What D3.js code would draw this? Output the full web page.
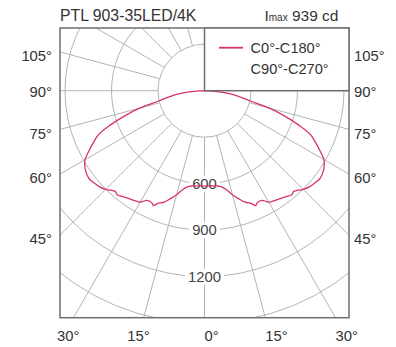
<!DOCTYPE html>
<html><head><meta charset="utf-8">
<script src="https://cdn.jsdelivr.net/npm/d3@7"></script>
<style>html,body{margin:0;padding:0;background:#fff}svg{display:block}</style>
</head><body>
<svg id="c" width="396" height="347"></svg>
<script>
const title = "PTL 903-35LED/4K";
const imaxValue = 939;
const seriesNames = ["C0°-C180°", "C90°-C270°"];
const gammaAngles = [0,2.5,5,7.5,10,12.5,15,17.5,20,22.5,24,25,27.5,30,32.5,35,37.5,40,41.5,42.5,45,47.5,50,52.5,55,57.5,60,62.5,65,67.5,70,72.5,75,77.5,80,82.5,85,87.5,90];
const intensityC0 = [615,615,616,620,630,655,695,730,765,787,812,800,798,830,840,850,862,876,868,875,900,918,928,936,930,915,890,840,790,740,645,540,430,300,235,175,110,55,0];
const ringValues = [300,600,900,1200,1500,1800];
const ringLabels = [600,900,1200];
const radialAngles = d3.range(0,360,15);
const sideLabels = [105,90,75,60,45];
const bottomLabels = [-30,-15,0,15,30];

const FONT = "'Liberation Sans', Arial, sans-serif";
const TXT = "#333";
const svg = d3.select("#c");
const fr = {x0:60, y0:28, x1:349, y1:317.7};
const cx = 204.5, cy = 90.7;
const r = d3.scaleLinear().domain([0,300]).range([0,46.5]);
const rad = d => d*Math.PI/180;

svg.append("defs").append("clipPath").attr("id","fc")
  .append("rect").attr("x",fr.x0).attr("y",fr.y0).attr("width",fr.x1-fr.x0).attr("height",fr.y1-fr.y0);

const grid = svg.append("g").attr("clip-path","url(#fc)");
grid.selectAll("circle").data(ringValues).join("circle")
  .attr("cx",cx).attr("cy",cy).attr("r",d=>r(d))
  .attr("fill","none").attr("stroke","#ababab").attr("stroke-width",0.9);
grid.selectAll("line").data(radialAngles).join("line")
  .attr("x1",d=>cx+r(300)*Math.sin(rad(d))).attr("y1",d=>cy+r(300)*Math.cos(rad(d)))
  .attr("x2",d=>cx+500*Math.sin(rad(d))).attr("y2",d=>cy+500*Math.cos(rad(d)))
  .attr("stroke","#ababab").attr("stroke-width",0.9);

// ring labels
const rl = svg.append("g");
ringLabels.forEach(v=>{
  const g = rl.append("g");
  const t = g.append("text").attr("x",cx).attr("y",cy+r(v)+5).attr("text-anchor","middle")
    .attr("font-family",FONT).attr("font-size",14.8).attr("fill","#444").text(v);
  const b = t.node().getBBox();
  g.insert("rect","text").attr("x",b.x-3).attr("y",b.y).attr("width",b.width+6).attr("height",b.height).attr("fill","#fff");
});

// curve
const pts = [];
for (let i=gammaAngles.length-1;i>0;i--) pts.push([-gammaAngles[i], intensityC0[i]]);
for (let i=0;i<gammaAngles.length;i++) pts.push([gammaAngles[i], intensityC0[i]]);
const line = d3.lineRadial().angle(d=>Math.PI-rad(d[0])).radius(d=>r(d[1])).curve(d3.curveCatmullRom.alpha(0.5));
svg.append("g").attr("clip-path","url(#fc)")
  .append("path").attr("transform",`translate(${cx},${cy})`).attr("d",line(pts))
  .attr("fill","none").attr("stroke","#d6336b").attr("stroke-width",1.3);

// frame
svg.append("rect").attr("x",fr.x0).attr("y",fr.y0).attr("width",fr.x1-fr.x0).attr("height",fr.y1-fr.y0)
  .attr("fill","none").attr("stroke","#6e6e6e").attr("stroke-width",1.5);

// legend
svg.append("rect").attr("x",cx).attr("y",fr.y0).attr("width",fr.x1-cx).attr("height",cy-fr.y0)
  .attr("fill","#fff").attr("stroke","#6e6e6e").attr("stroke-width",1.5);
svg.append("line").attr("x1",219).attr("x2",243).attr("y1",47.7).attr("y2",47.7).attr("stroke","#d6336b").attr("stroke-width",1.8);
seriesNames.forEach((s,i)=>{
  svg.append("text").attr("x",250.5).attr("y",53.3+i*20.7).attr("font-family",FONT).attr("font-size",14.6).attr("fill",TXT).text(s);
});

// title
svg.append("text").attr("x",fr.x0).attr("y",20.7).attr("font-family",FONT).attr("font-size",15.8).attr("fill",TXT).text(title);
const im = svg.append("text").attr("x",338.5).attr("y",20.7).attr("text-anchor","end").attr("font-family",FONT).attr("font-size",15.5).attr("fill",TXT);
im.append("tspan").text("I");
im.append("tspan").attr("font-size",10).text("max");
im.append("tspan").text(" " + imaxValue + " cd");

// side labels
const halfW = fr.x1 - cx;
sideLabels.forEach(a=>{
  const y = cy + halfW*Math.cos(rad(a))/Math.sin(rad(a)) + (a===90?1:4);
  svg.append("text").attr("x",52).attr("y",y).attr("dy","0.35em").attr("text-anchor","end")
    .attr("font-family",FONT).attr("font-size",14.8).attr("fill",TXT).text(a+"°");
  svg.append("text").attr("x",354).attr("y",y).attr("dy","0.35em").attr("text-anchor","start")
    .attr("font-family",FONT).attr("font-size",14.8).attr("fill",TXT).text(a+"°");
});
// bottom labels
const halfH = fr.y1 - cy;
bottomLabels.forEach(a=>{
  const x = cx + halfH*Math.tan(rad(a));
  svg.append("text").attr("x",a<0?x+6:x).attr("y",340.7).attr("text-anchor",a<0?"end":"start")
    .attr("font-family",FONT).attr("font-size",14.8).attr("fill",TXT).text(Math.abs(a)+"°");
});
</script>
</body></html>
